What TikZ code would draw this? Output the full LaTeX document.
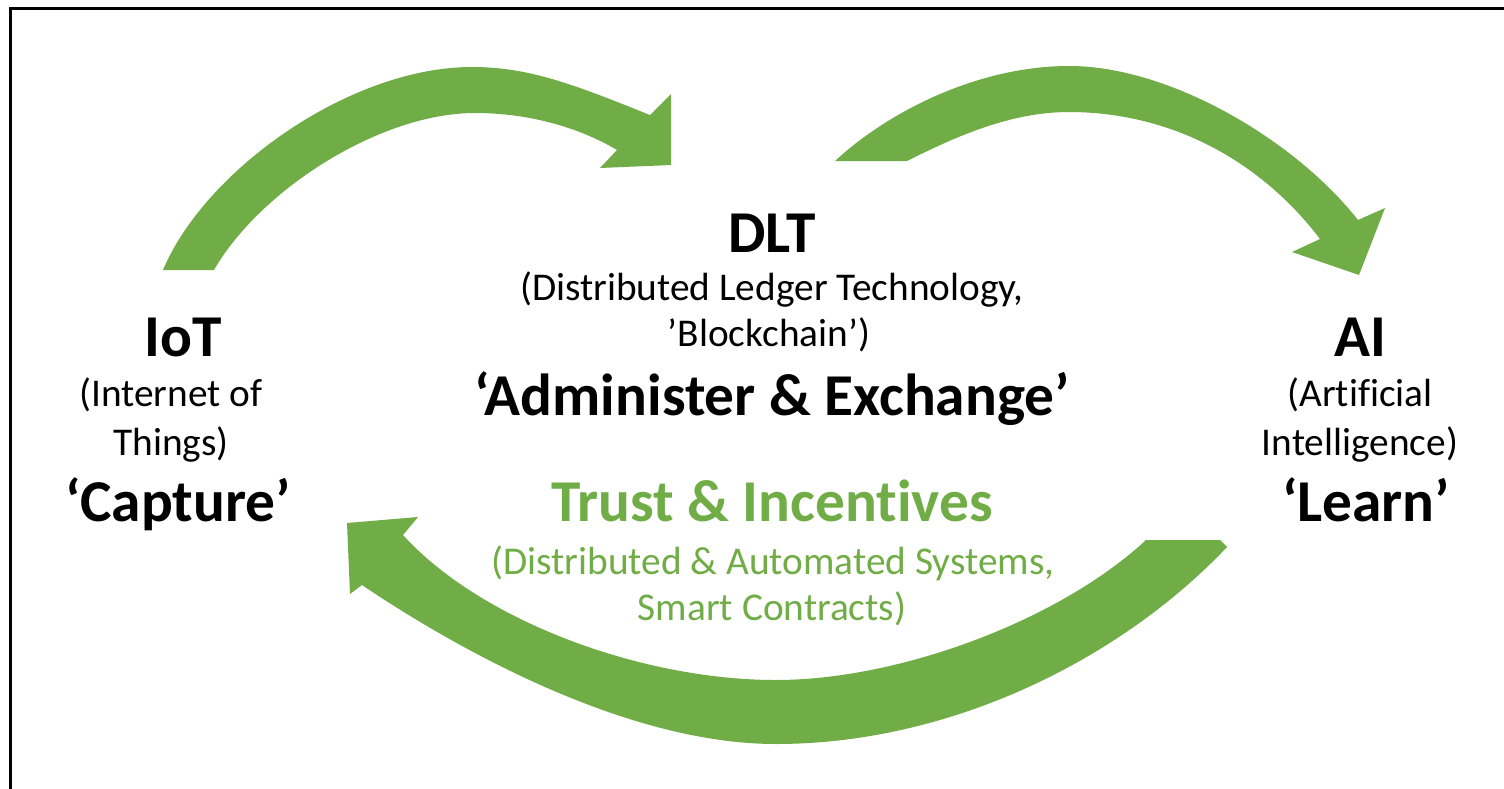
\documentclass[tikz,border=0pt]{standalone}
\usepackage{fontspec}
\setmainfont[RawFeature={-liga;-clig;-calt;-dlig}]{Carlito}
\definecolor{ogreen}{HTML}{70AD47}
\begin{document}
\begin{tikzpicture}[x=0.75pt,y=-0.75pt,
  big/.style={font=\fontsize{44.5}{50}\selectfont\bfseries, anchor=base, inner sep=0pt},
  small/.style={font=\fontsize{29.5}{34}\selectfont, anchor=base, inner sep=0pt},
  arrowshape/.style={fill=ogreen, draw=none},
  frame/.style={draw=black, line width=2.4pt}]
\useasboundingbox (0,0) rectangle (1504,789);
\fill[white] (0,0) rectangle (1504,789);
\draw[frame] (10.5,795) -- (10.5,8.5) -- (1510,8.5);

% Arrow IoT -> DLT
\fill[arrowshape] (163,270) .. controls (205,170) and (350,67) .. (472,67)
  .. controls (530,67) and (575,85) .. (650,115)
  -- (671,94) -- (671,165) -- (600,168) -- (617,150)
  .. controls (580,128) and (530,113) .. (475,113)
  .. controls (380,113) and (260,190) .. (214,270) -- cycle;

% Arrow DLT -> AI
\fill[arrowshape] (835,161) .. controls (890,110) and (980,66) .. (1069,66)
  .. controls (1170,66) and (1295,140) .. (1358,220)
  -- (1385,208) -- (1359,275) -- (1292,252) -- (1320,239)
  .. controls (1260,160) and (1170,112) .. (1069,112)
  .. controls (1010,112) and (955,137) .. (907,161) -- cycle;

% Arrow AI -> IoT
\fill[arrowshape] (1145,540) -- (1220,540) -- (1227,547)
  .. controls (1120,660) and (950,744) .. (776,744)
  .. controls (620,744) and (445,641) .. (362,585)
  -- (350,594) -- (347,523) -- (418,517) -- (403,535)
  .. controls (480,620) and (640,680) .. (776,680)
  .. controls (900,680) and (1060,620) .. (1146,540) -- cycle;

% Left column
\node[big] (iot) at (183,356) {IoT};
\node[small] (iotA) at (171,406) {(Internet of};
\node[small] (iotB) at (171,455) {Things)};
\node[big] (iotC) at (178,521) {‘Capture’};

% Middle column
\node[big] (dlt) at (772,252) {DLT};
\node[small] (dltA) at (772,300) {(Distributed Ledger Technology,};
\node[small] (dltB) at (769,346) {’Blockchain’)};
\node[big] (dltC) at (772,415) {‘Administer \& Exchange’};
\node[big, text=ogreen] (trust) at (772,521) {Trust \& Incentives};
\node[small, text=ogreen] (trustA) at (773,574) {(Distributed \& Automated Systems,};
\node[small, text=ogreen] (trustB) at (772,620) {Smart Contracts)};

% Right column
\node[big] (ai) at (1360,356) {AI};
\node[small] (aiA) at (1360,406) {(Artificial};
\node[small] (aiB) at (1360,455) {Intelligence)};
\node[big] (aiC) at (1366,521) {‘Learn’};
\end{tikzpicture}
\end{document}
